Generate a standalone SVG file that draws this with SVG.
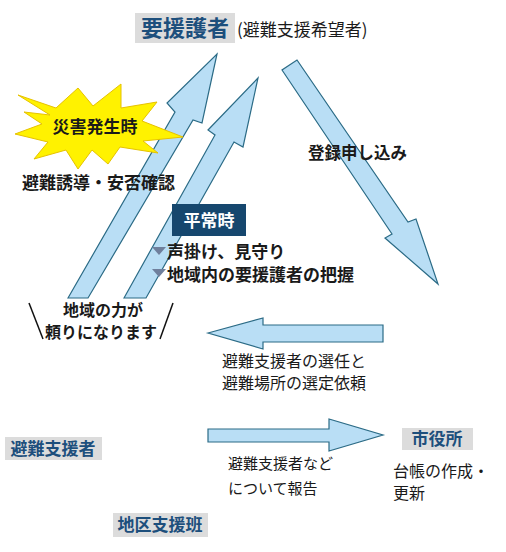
<svg xmlns="http://www.w3.org/2000/svg" width="506" height="552" viewBox="0 0 506 552">
<style>
.arr{fill:#b9def5;stroke:#2b6b86;stroke-width:1.2;stroke-linejoin:miter}
.t{font-family:"Noto Sans CJK JP","Noto Sans",sans-serif;fill:#1a1a1a}
.b{font-weight:700}
.lbl{fill:#dcdcdc}
.blue{fill:#1d4f7c;font-weight:700}
</style>
<rect width="506" height="552" fill="#fff"/>
<g id="connectors">
<polygon id="arrow-up1" class="arr" points="68,298 175,112 167,103 217,54 202,123 193,120 88,298"/>
<polygon id="arrow-up2" class="arr" points="124,298 215,135 208,130 258,78 243,147 234,142 146,298"/>
<polygon id="arrow-down" class="arr" points="282,70 392,234 385,238 438,284 416,219 408,222 297,60"/>
<polygon id="arrow-left" class="arr" points="208,333 263,318 263,325 383,325 383,342 263,342 263,349"/>
<polygon id="arrow-right" class="arr" points="208,429 329,429 329,419 383,435 329,451 329,442 208,442"/>
</g>
<g id="node-youengosha">
<rect class="lbl" x="135" y="13" width="100" height="30"/>
<text class="t blue" x="185" y="36" font-size="22" text-anchor="middle">要援護者</text>
<text class="t" x="237" y="36" font-size="17">(避難支援希望者)</text>
</g>
<g id="node-saigai">
<polygon fill="#fff200" stroke="#e6c200" stroke-width="1" points="18,95 56,108 78,88 93,106 121,84 121,108 157,102 142,121 183,137 143,141 158,153 120,147 108,164 92,150 78,169 66,150 34,159 48,142 15,134 42,124 24,112 50,115"/>
<text class="t b" x="95" y="133" font-size="17" text-anchor="middle">災害発生時</text>
</g>
<text class="t b" x="22" y="189" font-size="17">避難誘導・安否確認</text>
<text class="t b" x="308" y="159" font-size="16.5">登録申し込み</text>
<g id="node-heijouji">
<rect x="172" y="204" width="74" height="32" fill="#16476e"/>
<text class="t b" x="209" y="227" font-size="17" text-anchor="middle" style="fill:#fff">平常時</text>
<polygon points="152,247 166,247 159,255" fill="#6f7f9c"/>
<polygon points="152,269 166,269 159,277" fill="#6f7f9c"/>
<text class="t b" font-size="17"><tspan x="167" y="258">声掛け、見守り</tspan><tspan x="167" y="281">地域内の要援護者の把握</tspan></text>
</g>
<g id="node-chiiki">
<line x1="29" y1="303" x2="43" y2="339" stroke="#111" stroke-width="1.5"/>
<line x1="173" y1="303" x2="160" y2="339" stroke="#111" stroke-width="1.5"/>
<text class="t b" text-anchor="middle" font-size="16"><tspan x="103" y="316">地域の力が</tspan><tspan x="101" y="338">頼りになります</tspan></text>
</g>
<text class="t" font-size="16"><tspan x="222" y="367">避難支援者の選任と</tspan><tspan x="222" y="389">避難場所の選定依頼</tspan></text>
<text class="t" font-size="15"><tspan x="228" y="469">避難支援者など</tspan><tspan x="228" y="494">について報告</tspan></text>
<g id="node-shiyakusho">
<rect class="lbl" x="402" y="428" width="71" height="22"/>
<text class="t blue" x="437" y="445" font-size="17" text-anchor="middle">市役所</text>
<text class="t" font-size="16"><tspan x="393" y="477">台帳の作成・</tspan><tspan x="393" y="499">更新</tspan></text>
</g>
<g id="node-hinanshiensha">
<rect class="lbl" x="5" y="437" width="97" height="23"/>
<text class="t blue" x="53" y="455" font-size="17" text-anchor="middle">避難支援者</text>
</g>
<g id="node-chikushienhan">
<rect class="lbl" x="113" y="513" width="95" height="24"/>
<text class="t blue" x="160" y="531" font-size="17" text-anchor="middle">地区支援班</text>
</g>
</svg>
